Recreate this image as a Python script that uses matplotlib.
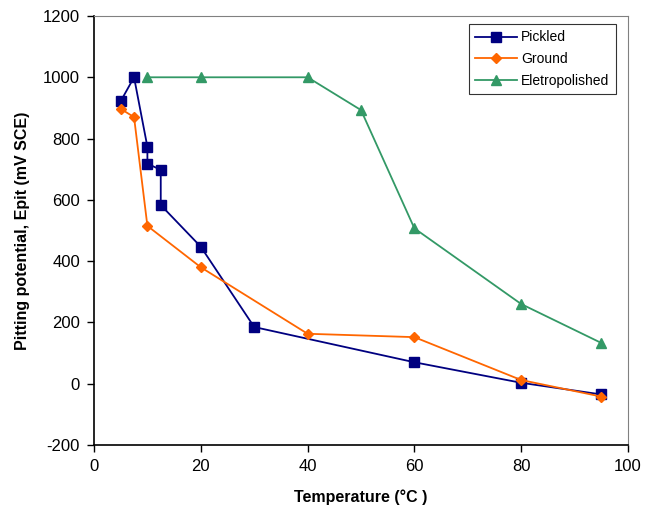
import matplotlib
matplotlib.use("Agg")
import matplotlib.pyplot as plt

plt.rcParams['font.family'] = ['Liberation Sans', 'DejaVu Sans']
plt.rcParams['axes.unicode_minus'] = False

pickled_x = [5, 7.5, 10, 10, 12.5, 12.5, 20, 30, 60, 80, 95]
pickled_y = [922, 1000, 773, 718, 698, 583, 447, 185, 70, 3, -35]
ground_x = [5, 7.5, 10, 20, 40, 60, 80, 95]
ground_y = [897, 870, 515, 380, 163, 152, 12, -42]
electro_x = [10, 20, 40, 50, 60, 80, 95]
electro_y = [1000, 1000, 1000, 893, 507, 260, 133]

fig = plt.figure(figsize=(6.58, 5.16), dpi=100)
ax = fig.add_axes([94/658, 1-445/516, (628-94)/658, (445-16)/516])

ax.plot(pickled_x, pickled_y, color='#000080', marker='s', markersize=7, lw=1.3, label='Pickled')
ax.plot(ground_x, ground_y, color='#FF6600', marker='D', markersize=5.5, lw=1.3, label='Ground')
ax.plot(electro_x, electro_y, color='#339966', marker='^', markersize=7, lw=1.3, label='Eletropolished')

ax.set_xlim(0, 100)
ax.set_ylim(-200, 1200)
ax.set_xticks(range(0, 101, 20))
ax.set_yticks(range(-200, 1201, 200))
ax.tick_params(labelsize=12, direction='out', length=5, width=1, pad=5)
for s in ['top', 'right']:
    ax.spines[s].set_color('#808080')
for s in ['left', 'bottom']:
    ax.spines[s].set_color('black')
    ax.spines[s].set_linewidth(1.2)

ax.set_xlabel('Temperature (°C )', fontsize=11.5, fontweight='bold', labelpad=11)
ax.set_ylabel('Pitting potential, Epit (mV SCE)', fontsize=11.5, fontweight='bold', labelpad=9)

leg = ax.legend(loc='upper right', bbox_to_anchor=(0.99, 0.997), fontsize=10, frameon=True,
                fancybox=False, edgecolor='black', borderpad=0.45, handlelength=3,
                labelspacing=0.55, handletextpad=0.3)
leg.get_frame().set_linewidth(0.8)

fig.savefig('out.png', dpi=100)
